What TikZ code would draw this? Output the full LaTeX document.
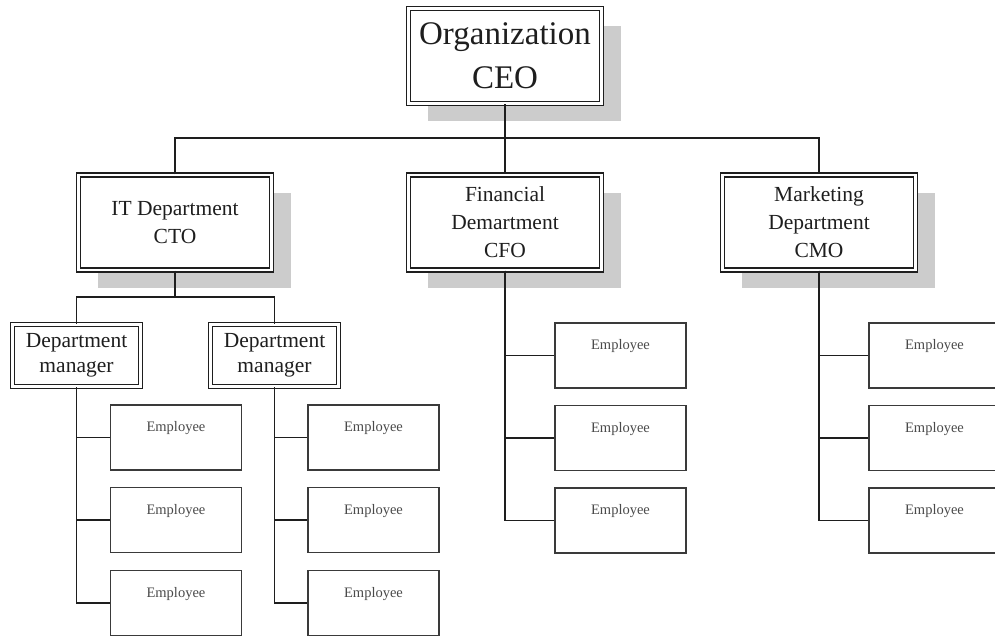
\documentclass[tikz,border=0pt]{standalone}
\usepackage{fontspec}
\setmainfont{Liberation Serif}
\usetikzlibrary{shadows}
\definecolor{inkc}{HTML}{1E1E1E}
\definecolor{shadowc}{HTML}{CCCCCC}
\definecolor{empline}{HTML}{3A3A3A}
\definecolor{emptext}{HTML}{4A4A4A}
\begin{document}
\begin{tikzpicture}[x=1pt,y=-1pt,
  dbl/.style={draw=inkc, line width=1.4pt, double=white, double distance=2.5pt,
    fill=white, inner sep=0pt, align=center, text=inkc},
  shadowed/.style={drop shadow={shadow xshift=19pt, shadow yshift=-18pt,
    fill=shadowc, opacity=1}},
  topbox/.style={dbl, shadowed, minimum width=193pt, minimum height=95pt,
    font=\fontsize{33}{44}\selectfont},
  deptbox/.style={dbl, shadowed, minimum width=193pt, minimum height=95pt,
    font=\fontsize{21.5}{28}\selectfont},
  mgrbox/.style={dbl, minimum width=128pt, minimum height=62pt,
    font=\fontsize{21.5}{25}\selectfont},
  empbox/.style={draw=empline, line width=1.5pt, fill=white, inner sep=0pt,
    minimum width=131pt, minimum height=65pt,
    label={[text=emptext, font=\fontsize{14.5}{16}\selectfont, yshift=9pt]center:Employee}},
  conn/.style={draw=inkc, line width=1.6pt}]
\clip (0,0) rectangle (995,639);
\fill[white] (0,0) rectangle (995,639);

% top level
\node[topbox] (ceo) at (505,56) {Organization\\CEO};

% departments
\node[deptbox] (it)  at (175,222.5) {IT Department\\CTO};
\node[deptbox] (fin) at (505,222.5) {Financial\\Demartment\\CFO};
\node[deptbox] (mkt) at (819,222.5) {Marketing\\Department\\CMO};

% IT managers
\node[mgrbox] (dm1) at (76.5,355.5) {Department\\manager};
\node[mgrbox] (dm2) at (274.5,355.5) {Department\\manager};

% employees
\foreach \n/\x/\y in {a1/176/437.5, a2/176/520, a3/176/603,
                      b1/373.5/437.5, b2/373.5/520, b3/373.5/603,
                      f1/620.5/355.5, f2/620.5/438, f3/620.5/520.5,
                      m1/934.5/355.5, m2/934.5/438, m3/934.5/520.5}
  \node[empbox] (\n) at (\x,\y) {};

% connectors
\coordinate (bus0) at (505,138);
\coordinate (bus1) at (175,297);
\draw[conn] (ceo.south) -- (bus0);
\draw[conn] (it.north) |- (bus0) -| (mkt.north);
\draw[conn] (bus0) -- (fin.north);
\draw[conn] (it.south) -- (bus1);
\draw[conn] (dm1.north) |- (bus1) -| (dm2.north);
\foreach \e in {a1,a2,a3} \draw[conn] (dm1.south) |- (\e.west);
\foreach \e in {b1,b2,b3} \draw[conn] (dm2.south) |- (\e.west);
\foreach \e in {f1,f2,f3} \draw[conn] (fin.south) |- (\e.west);
\foreach \e in {m1,m2,m3} \draw[conn] (mkt.south) |- (\e.west);
\end{tikzpicture}
\end{document}
